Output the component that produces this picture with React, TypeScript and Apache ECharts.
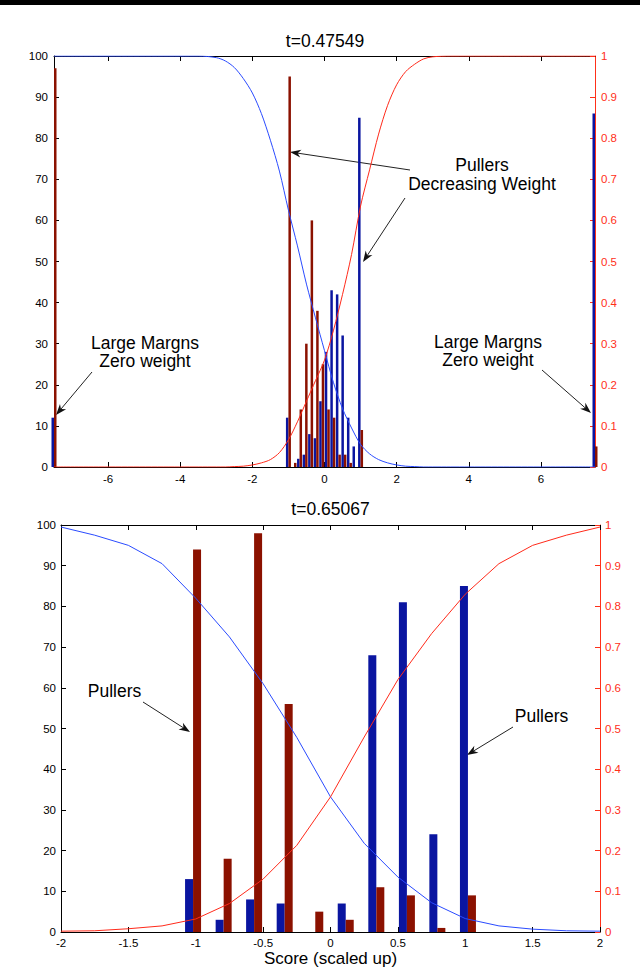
import * as echarts from "echarts";
import { useEffect, useRef } from "react";

// top panel (t=0.47549): histogram bins and counts
const topBins = [-7.5, -1, -0.846, -0.692, -0.538, -0.385, -0.231, -0.077, 0.077, 0.231, 0.385, 0.538, 0.692, 0.846, 1, 7.5];
const topBlue = [12, 12, 0, 2, 3, 8, 7, 16, 28, 43, 42, 32, 12, 5, 85, 86];
const topRed = [97, 95, 1, 14, 30, 60, 38, 25, 14, 12, 3, 3, 1, 0, 9, 5];

// top panel weight curves
const topCurveX = [-7.5, -3.5, -3, -2.75, -2.5, -2.25, -2, -1.75, -1.5, -1.25, -1, -0.75, -0.5, -0.25, 0, 0.25, 0.5, 0.75, 1, 1.25, 1.5, 1.75, 2, 2.25, 2.5, 2.75, 3, 3.5, 7.5];
const topBlueW = [1, 1, 0.996, 0.988, 0.972, 0.945, 0.91, 0.86, 0.795, 0.72, 0.625, 0.538, 0.445, 0.363, 0.283, 0.205, 0.142, 0.095, 0.055, 0.032, 0.018, 0.01, 0.005, 0.002, 0.001, 0, 0, 0, 0];
const topRedW = [0, 0, 0, 0, 0.001, 0.002, 0.005, 0.01, 0.018, 0.035, 0.066, 0.11, 0.16, 0.21, 0.26, 0.333, 0.42, 0.517, 0.635, 0.723, 0.81, 0.88, 0.93, 0.962, 0.98, 0.993, 0.998, 1, 1];
const topXTicks = [-6, -4, -2, 0, 2, 4, 6];

// bottom panel (t=0.65067)
const bottomBins = [-1.02, -0.793, -0.567, -0.34, -0.113, 0.113, 0.34, 0.567, 0.793, 1.02];
const bottomBlue = [13, 3, 8, 7, 0, 7, 68, 81, 24, 85];
const bottomRed = [94, 18, 98, 56, 5, 3, 11, 9, 1, 9];
const bottomCurveX = [-2, -1.75, -1.5, -1.25, -1, -0.75, -0.5, -0.25, 0, 0.25, 0.5, 0.75, 1, 1.25, 1.5, 1.75, 2];
const bottomBlueW = [0.995, 0.975, 0.95, 0.905, 0.82, 0.725, 0.61, 0.478, 0.332, 0.218, 0.135, 0.072, 0.033, 0.015, 0.007, 0.003, 0.002];
const bottomRedW = [0.002, 0.003, 0.008, 0.015, 0.032, 0.07, 0.13, 0.213, 0.332, 0.479, 0.62, 0.733, 0.83, 0.905, 0.95, 0.975, 0.995];
const bottomXTicks = [-2, -1.5, -1, -0.5, 0, 0.5, 1, 1.5, 2];

const FONT = "'Liberation Sans', Arial, sans-serif";
const BAR_BLUE = "#0a15a0";
const BAR_RED = "#8b1100";
const LINE_BLUE = "#2a4bff";
const LINE_RED = "#ff2a1a";
const AXIS_RED = "#ff3019";

const zip = (xs: number[], ys: number[]) => xs.map((x, i) => [x, ys[i]]);

function text(x: number, y: number, s: string, size = 17.5) {
  return {
    type: "text",
    x,
    y,
    style: {
      text: s,
      font: `${size}px ${FONT}`,
      lineHeight: 18.5,
      fill: "#000",
      align: "center",
      verticalAlign: "middle",
      textAlign: "center",
      textVerticalAlign: "middle",
    },
  };
}

function arrow(x1: number, y1: number, x2: number, y2: number) {
  const dx = x2 - x1;
  const dy = y2 - y1;
  const len = Math.hypot(dx, dy);
  const ux = dx / len;
  const uy = dy / len;
  const hl = 11;
  const hw = 4;
  const bx = x2 - ux * hl;
  const by = y2 - uy * hl;
  const nx = -uy;
  const ny = ux;
  return [
    {
      type: "line",
      shape: { x1, y1, x2: x2 - ux * 6, y2: y2 - uy * 6 },
      style: { stroke: "#222", lineWidth: 1 },
    },
    {
      type: "polygon",
      shape: {
        points: [
          [x2, y2],
          [bx + nx * hw, by + ny * hw],
          [x2 - ux * hl * 0.7, y2 - uy * hl * 0.7],
          [bx - nx * hw, by - ny * hw],
        ],
      },
      style: { fill: "#111" },
    },
  ];
}

const App = () => {
  const chartRef = useRef<HTMLDivElement>(null);

  useEffect(() => {
    const chart = echarts.init(chartRef.current as HTMLDivElement, null, { renderer: "svg" });

    const label = { fontFamily: FONT, fontSize: 11.5, color: "#000" };
    const blackTick = { show: true, inside: true, length: 5, lineStyle: { color: "#000" } };
    const redTick = { show: true, inside: true, length: 5, lineStyle: { color: AXIS_RED } };
    const blackLine = { show: true, onZero: false, lineStyle: { color: "#000", width: 1 } };
    const redLine = { show: true, onZero: false, lineStyle: { color: AXIS_RED, width: 1 } };

    const xPair = (grid: number, min: number, max: number, ticks: number[], margin: number) => [
      {
        type: "value",
        gridIndex: grid,
        min,
        max,
        position: "bottom",
        axisLine: blackLine,
        axisTick: { ...blackTick, customValues: ticks },
        axisLabel: { ...label, margin, customValues: ticks },
        splitLine: { show: false },
      },
      {
        type: "value",
        gridIndex: grid,
        min,
        max,
        position: "top",
        axisLine: blackLine,
        axisTick: { ...blackTick, customValues: ticks },
        axisLabel: { show: false },
        splitLine: { show: false },
      },
    ];

    const yPair = (grid: number, margin: number) => [
      {
        type: "value",
        gridIndex: grid,
        min: 0,
        max: 100,
        interval: 10,
        position: "left",
        axisLine: blackLine,
        axisTick: blackTick,
        axisLabel: { ...label, margin },
        splitLine: { show: false },
      },
      {
        type: "value",
        gridIndex: grid,
        min: 0,
        max: 1,
        interval: 0.1,
        position: "right",
        axisLine: redLine,
        axisTick: redTick,
        axisLabel: { ...label, color: AXIS_RED, margin },
        splitLine: { show: false },
      },
    ];

    const bars = (xi: number, yi: number, bins: number[], counts: number[], color: string, width: number) => ({
      type: "bar",
      xAxisIndex: xi,
      yAxisIndex: yi,
      data: zip(bins, counts),
      barWidth: width,
      barGap: "0%",
      clip: false,
      itemStyle: { color },
      silent: true,
    });

    const curve = (xi: number, yi: number, xs: number[], ws: number[], color: string, smooth: boolean) => ({
      type: "line",
      xAxisIndex: xi,
      yAxisIndex: yi,
      data: zip(xs, ws),
      showSymbol: false,
      symbol: "none",
      smooth: smooth ? 0.3 : false,
      lineStyle: { color, width: 1 },
      itemStyle: { color },
      silent: true,
    });

    const option = {
      animation: false,
      grid: [
        { left: 54, top: 56, width: 541, height: 411 },
        { left: 61, top: 525, width: 539, height: 407 },
      ],
      xAxis: [...xPair(0, -7.5, 7.5, topXTicks, 6), ...xPair(1, -2, 2, bottomXTicks, 5)],
      yAxis: [...yPair(0, 6), ...yPair(1, 5)],
      series: [
        bars(0, 0, topBins, topBlue, BAR_BLUE, 2.5),
        bars(0, 0, topBins, topRed, BAR_RED, 2.5),
        curve(0, 1, topCurveX, topBlueW, LINE_BLUE, true),
        curve(0, 1, topCurveX, topRedW, LINE_RED, true),
        bars(2, 2, bottomBins, bottomBlue, BAR_BLUE, 8),
        bars(2, 2, bottomBins, bottomRed, BAR_RED, 8),
        curve(2, 3, bottomCurveX, bottomBlueW, LINE_BLUE, false),
        curve(2, 3, bottomCurveX, bottomRedW, LINE_RED, false),
      ],
      graphic: [
        { type: "rect", shape: { x: 0, y: 0, width: 640, height: 5 }, style: { fill: "#000" } },
        text(325, 41, "t=0.47549"),
        text(330.5, 508.5, "t=0.65067"),
        text(330.5, 958.5, "Score (scaled up)", 17),
        text(482, 174.5, "Pullers\nDecreasing Weight"),
        text(145, 352, "Large Margns\nZero weight"),
        text(488, 351, "Large Margns\nZero weight"),
        text(114.5, 691, "Pullers"),
        text(541.5, 716, "Pullers"),
        ...arrow(410, 170, 290, 152),
        ...arrow(405, 198, 363, 262),
        ...arrow(92, 372, 56, 415),
        ...arrow(542, 370, 591, 413),
        ...arrow(143, 702, 190, 732),
        ...arrow(513, 727, 467, 755),
      ],
    };

    chart.setOption(option as any);

    return () => {
      chart.dispose();
    };
  }, []);

  return (
    <div
      ref={chartRef}
      style={{ position: "fixed", left: 0, top: 0, width: "640px", height: "970px", background: "#fff" }}
    />
  );
};

export default App;
